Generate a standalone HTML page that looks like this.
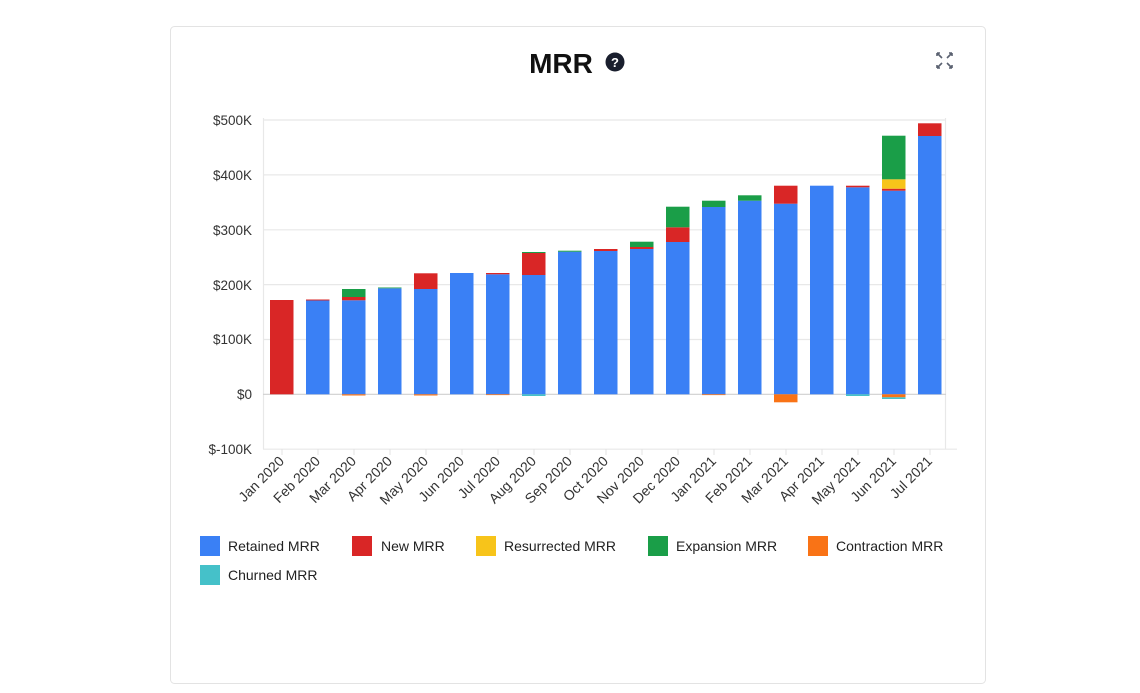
<!DOCTYPE html>
<html><head><meta charset="utf-8"><style>
html,body{margin:0;padding:0;background:#fff;}
svg{display:block;font-family:"Liberation Sans",sans-serif;}
</style></head><body>
<svg width="1140" height="693" viewBox="0 0 1140 693">
<rect x="170.5" y="26.5" width="815" height="657" rx="4" fill="#fff" stroke="#e3e3e3"/>
<text x="561" y="73" font-size="28" font-weight="bold" text-anchor="middle" fill="#111">MRR</text>
<circle cx="615" cy="62" r="9.5" fill="#1a1f2e"/>
<text x="615" y="67" font-size="13" font-weight="bold" text-anchor="middle" fill="#fff">?</text>
<g stroke="#5a6170" stroke-width="1.6" fill="none">
<path d="M937 53l5 5M937 53h3M937 53v3M952 53l-5 5M952 53h-3M952 53v3M937 68l5-5M937 68h3M937 68v-3M952 68l-5-5M952 68h-3M952 68v-3"/>
</g>
<g stroke="#e8e8e8" stroke-width="1.2">
<line x1="263" y1="120" x2="946" y2="120"/><line x1="263" y1="174.9" x2="946" y2="174.9"/>
<line x1="263" y1="229.8" x2="946" y2="229.8"/><line x1="263" y1="284.6" x2="946" y2="284.6"/>
<line x1="263" y1="339.5" x2="946" y2="339.5"/><line x1="263" y1="449.2" x2="957" y2="449.2"/>
<line x1="263.5" y1="118" x2="263.5" y2="449"/><line x1="945.5" y1="118" x2="945.5" y2="449"/>
</g>
<line x1="263" y1="394.3" x2="946" y2="394.3" stroke="#cfcfcf" stroke-width="1.2"/>
<g font-size="13.5" fill="#333" text-anchor="end">
<text x="252" y="125">$500K</text><text x="252" y="180">$400K</text><text x="252" y="235">$300K</text>
<text x="252" y="290">$200K</text><text x="252" y="344">$100K</text><text x="252" y="399">$0</text>
<text x="252" y="454">$-100K</text></g>
<g>
<g fill="#3a80f5">
<rect x="306" y="300.5" width="23.5" height="93.8"/>
<rect x="342" y="300.3" width="23.5" height="94"/>
<rect x="378" y="288.3" width="23.5" height="106"/>
<rect x="414" y="289" width="23.5" height="105.3"/>
<rect x="450" y="273" width="23.5" height="121.3"/>
<rect x="486" y="274.3" width="23.5" height="120"/>
<rect x="522" y="275" width="23.5" height="119.3"/>
<rect x="558" y="251.7" width="23.5" height="142.6"/>
<rect x="594" y="251" width="23.5" height="143.3"/>
<rect x="630" y="249" width="23.5" height="145.3"/>
<rect x="666" y="242" width="23.5" height="152.3"/>
<rect x="702" y="207" width="23.5" height="187.3"/>
<rect x="738" y="200.7" width="23.5" height="193.6"/>
<rect x="774" y="203.7" width="23.5" height="190.6"/>
<rect x="810" y="185.7" width="23.5" height="208.6"/>
<rect x="846" y="187.3" width="23.5" height="207"/>
<rect x="882" y="190.7" width="23.5" height="203.6"/>
<rect x="918" y="136" width="23.5" height="258.3"/>
</g>
<g fill="#d92626">
<rect x="270" y="300" width="23.5" height="94.3"/>
<rect x="306" y="299.5" width="23.5" height="1"/>
<rect x="342" y="297" width="23.5" height="3.3"/>
<rect x="414" y="273.3" width="23.5" height="15.7"/>
<rect x="486" y="273" width="23.5" height="1.3"/>
<rect x="522" y="253" width="23.5" height="22"/>
<rect x="594" y="249" width="23.5" height="2"/>
<rect x="630" y="247" width="23.5" height="2"/>
<rect x="666" y="227.3" width="23.5" height="14.7"/>
<rect x="774" y="185.7" width="23.5" height="18"/>
<rect x="846" y="185.7" width="23.5" height="1.6"/>
<rect x="882" y="188.7" width="23.5" height="2"/>
<rect x="918" y="123.3" width="23.5" height="12.7"/>
</g>
<g fill="#f7c41a"><rect x="882" y="179.3" width="23.5" height="9.4"/></g>
<g fill="#1a9e48">
<rect x="342" y="289" width="23.5" height="8"/>
<rect x="378" y="287.5" width="23.5" height="0.8"/>
<rect x="522" y="252" width="23.5" height="1"/>
<rect x="558" y="250.7" width="23.5" height="1"/>
<rect x="630" y="241.7" width="23.5" height="5.3"/>
<rect x="666" y="206.7" width="23.5" height="20.6"/>
<rect x="702" y="200.7" width="23.5" height="6.3"/>
<rect x="738" y="195.3" width="23.5" height="5.4"/>
<rect x="882" y="135.7" width="23.5" height="43.6"/>
</g>
<g fill="#f97316">
<rect x="342" y="394.3" width="23.5" height="1.2"/>
<rect x="414" y="394.3" width="23.5" height="1.2"/>
<rect x="486" y="394.3" width="23.5" height="0.8"/>
<rect x="702" y="394.3" width="23.5" height="0.8"/>
<rect x="774" y="394.3" width="23.5" height="8"/>
<rect x="882" y="394.3" width="23.5" height="3"/>
</g>
<g fill="#45c1c9">
<rect x="522" y="394.3" width="23.5" height="1.7"/>
<rect x="846" y="394.3" width="23.5" height="1.7"/>
<rect x="882" y="397.3" width="23.5" height="1.7"/>
</g>
</g>
<g stroke="#e3e3e3" stroke-width="1">
<line x1="282" y1="449" x2="282" y2="455"/><line x1="318" y1="449" x2="318" y2="455"/><line x1="354" y1="449" x2="354" y2="455"/><line x1="390" y1="449" x2="390" y2="455"/><line x1="426" y1="449" x2="426" y2="455"/><line x1="462" y1="449" x2="462" y2="455"/><line x1="498" y1="449" x2="498" y2="455"/><line x1="534" y1="449" x2="534" y2="455"/><line x1="570" y1="449" x2="570" y2="455"/><line x1="606" y1="449" x2="606" y2="455"/><line x1="642" y1="449" x2="642" y2="455"/><line x1="678" y1="449" x2="678" y2="455"/><line x1="714" y1="449" x2="714" y2="455"/><line x1="750" y1="449" x2="750" y2="455"/><line x1="786" y1="449" x2="786" y2="455"/><line x1="822" y1="449" x2="822" y2="455"/><line x1="858" y1="449" x2="858" y2="455"/><line x1="894" y1="449" x2="894" y2="455"/><line x1="930" y1="449" x2="930" y2="455"/>
</g>
<g font-size="14" fill="#333" text-anchor="end">
<text transform="translate(285,462) rotate(-45)">Jan 2020</text>
<text transform="translate(321,462) rotate(-45)">Feb 2020</text>
<text transform="translate(357,462) rotate(-45)">Mar 2020</text>
<text transform="translate(393,462) rotate(-45)">Apr 2020</text>
<text transform="translate(429,462) rotate(-45)">May 2020</text>
<text transform="translate(465,462) rotate(-45)">Jun 2020</text>
<text transform="translate(501,462) rotate(-45)">Jul 2020</text>
<text transform="translate(537,462) rotate(-45)">Aug 2020</text>
<text transform="translate(573,462) rotate(-45)">Sep 2020</text>
<text transform="translate(609,462) rotate(-45)">Oct 2020</text>
<text transform="translate(645,462) rotate(-45)">Nov 2020</text>
<text transform="translate(681,462) rotate(-45)">Dec 2020</text>
<text transform="translate(717,462) rotate(-45)">Jan 2021</text>
<text transform="translate(753,462) rotate(-45)">Feb 2021</text>
<text transform="translate(789,462) rotate(-45)">Mar 2021</text>
<text transform="translate(825,462) rotate(-45)">Apr 2021</text>
<text transform="translate(861,462) rotate(-45)">May 2021</text>
<text transform="translate(897,462) rotate(-45)">Jun 2021</text>
<text transform="translate(933,462) rotate(-45)">Jul 2021</text>
</g>
<g font-size="14" fill="#222">
<rect x="200" y="536" width="20" height="20" fill="#3a80f5"/><text x="228" y="551">Retained MRR</text>
<rect x="352" y="536" width="20" height="20" fill="#d92626"/><text x="381" y="551">New MRR</text>
<rect x="476" y="536" width="20" height="20" fill="#f7c41a"/><text x="504" y="551">Resurrected MRR</text>
<rect x="648" y="536" width="20" height="20" fill="#1a9e48"/><text x="676" y="551">Expansion MRR</text>
<rect x="808" y="536" width="20" height="20" fill="#f97316"/><text x="836" y="551">Contraction MRR</text>
<rect x="200" y="565" width="20" height="20" fill="#45c1c9"/><text x="228" y="580">Churned MRR</text>
</g>
</svg>
</body></html>
